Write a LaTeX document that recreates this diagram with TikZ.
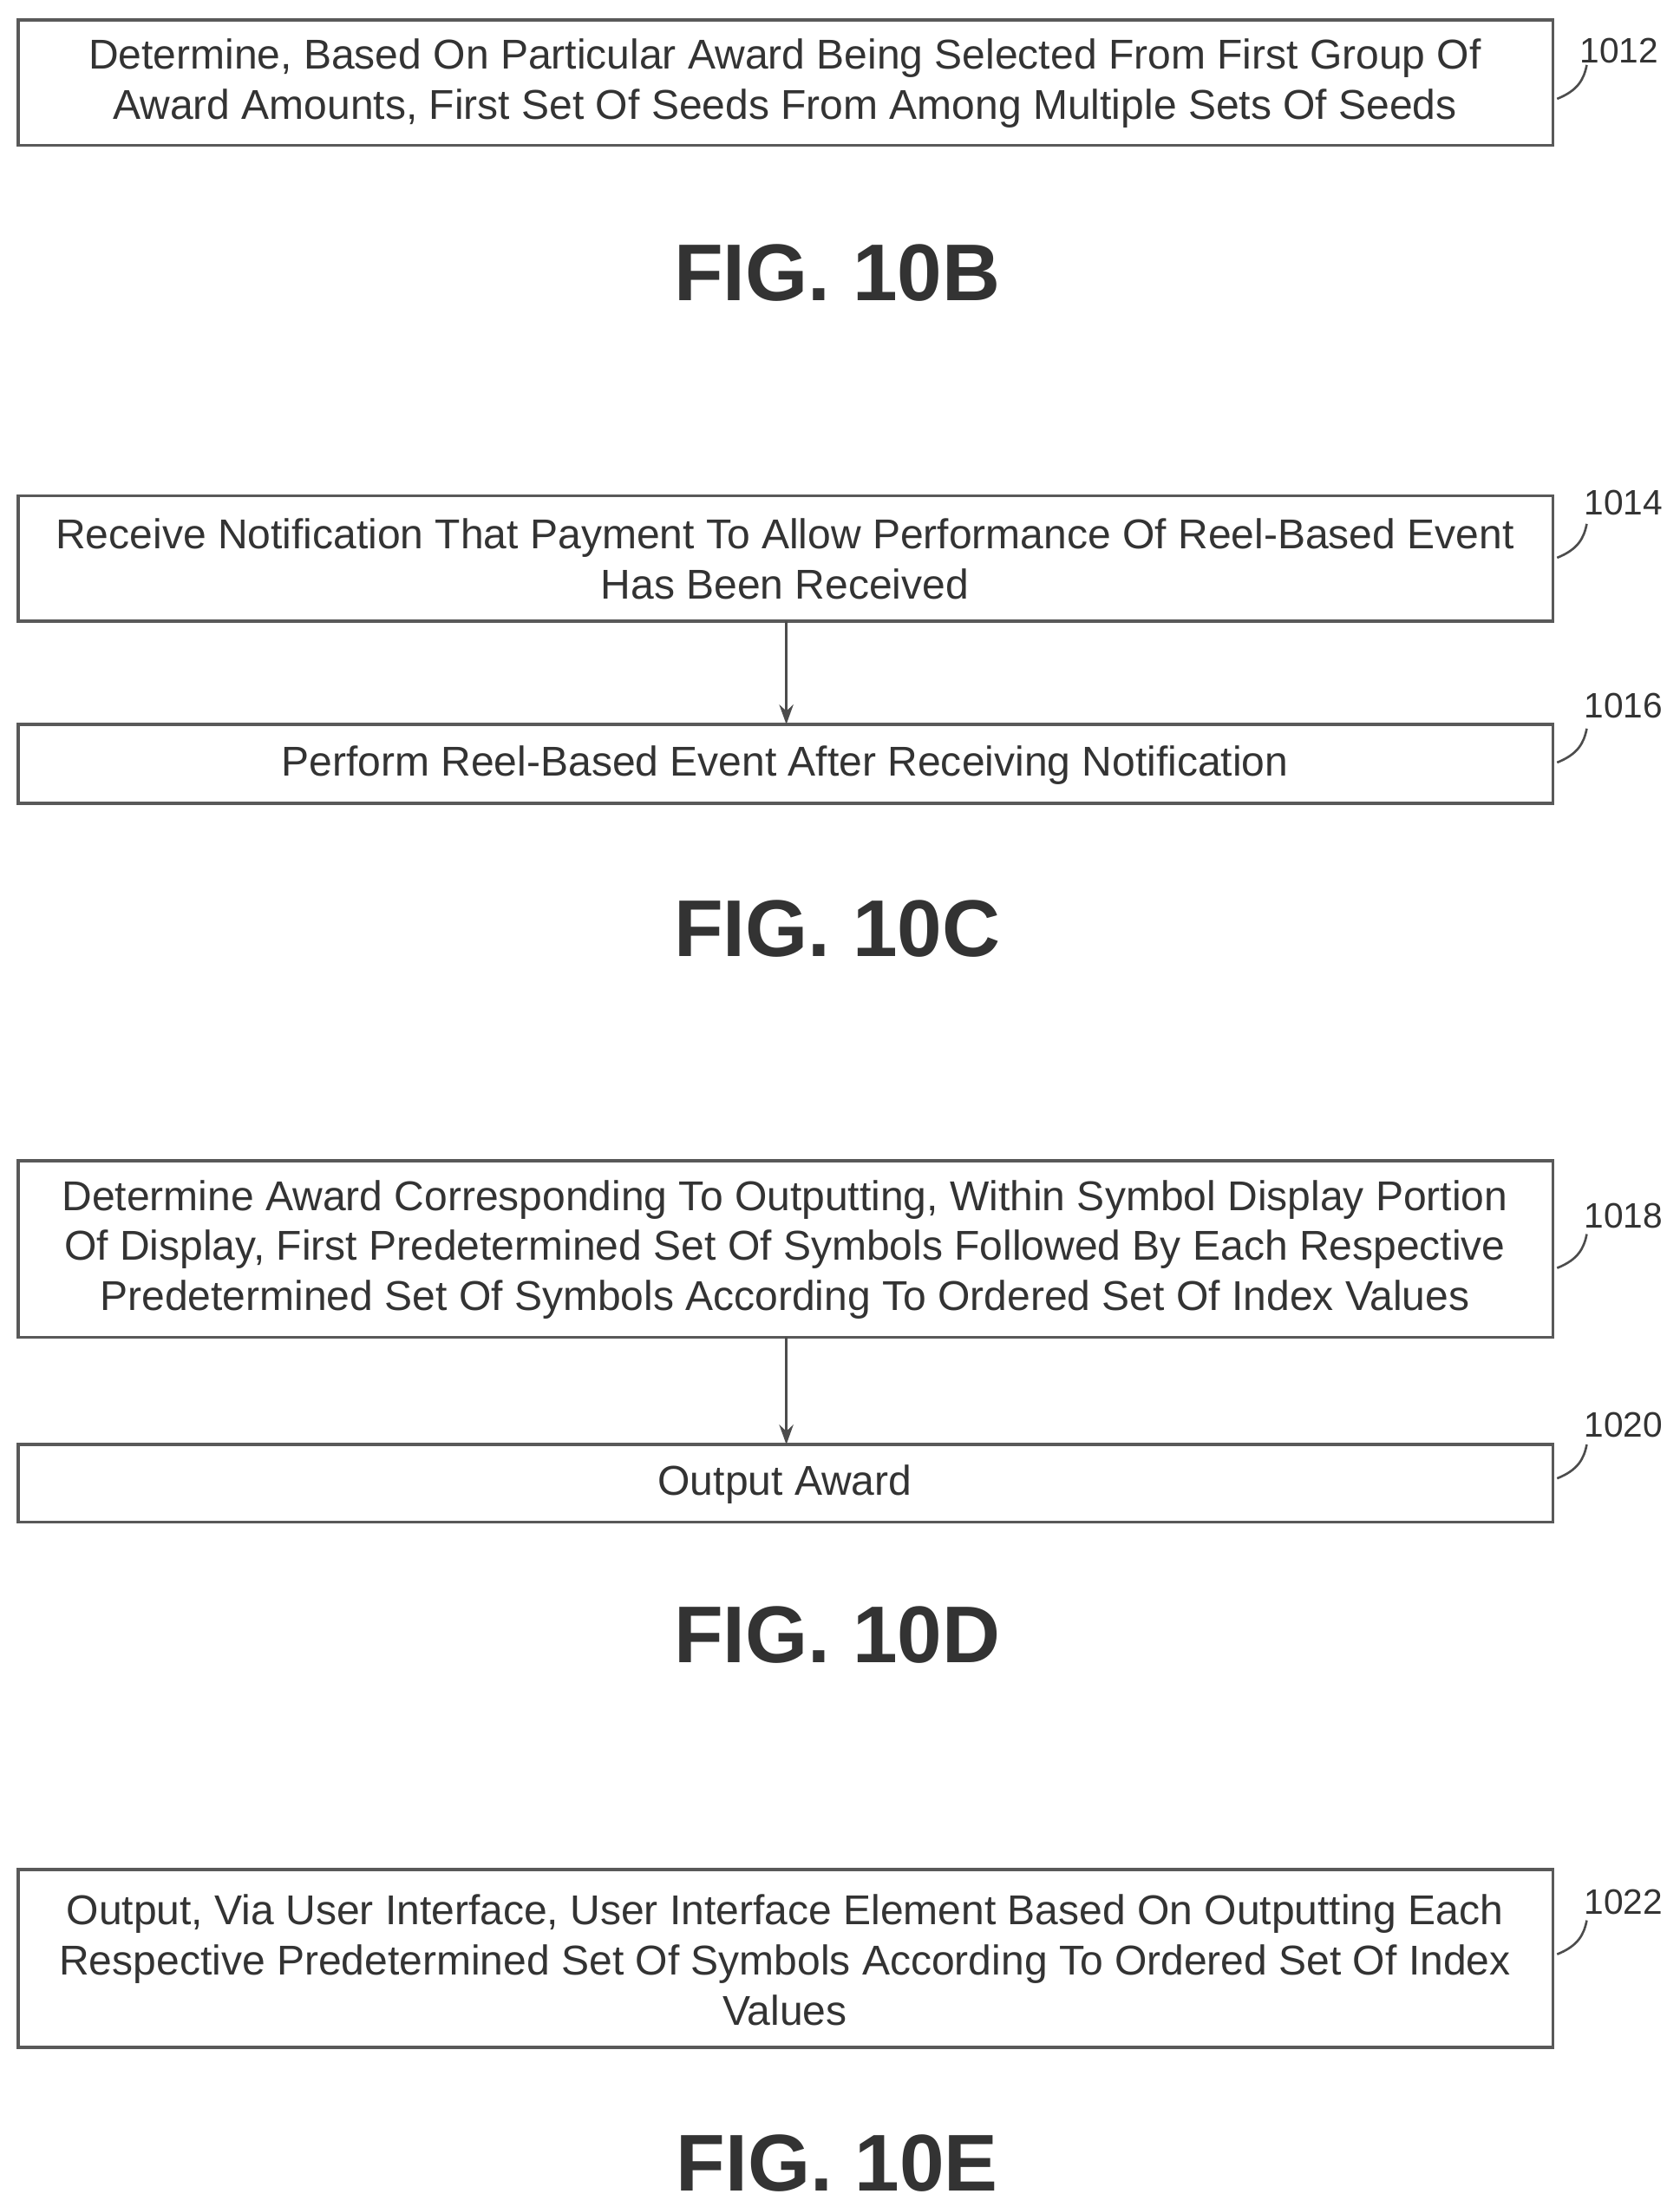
\documentclass[tikz,border=0pt]{standalone}
\usepackage{fontspec}
\setmainfont{Liberation Sans}
\usetikzlibrary{arrows.meta}
\begin{document}
\begin{tikzpicture}[x=1pt,y=-1pt,
  box/.style={draw=black!65,line width=2.2pt},
  txt/.style={font=\fontsize{29.5}{35.5}\selectfont,text=black!80,align=center},
  lbl/.style={font=\fontsize{25}{28}\selectfont,text=black!80},
  fig/.style={font=\fontsize{57}{64}\bfseries\selectfont,text=black!80},
  arr/.style={draw=black!70,line width=1.8pt,-{Stealth[length=14pt,width=10pt]}},
  tick/.style={draw=black!70,line width=1.6pt}]
\useasboundingbox (0,0) rectangle (1190,1563);
% 10B
\draw[box] (13,14) rectangle (1100,103);
\node[txt] (t1012) at (556,59) {Determine, Based On Particular Award Being Selected From First Group Of\\Award Amounts, First Set Of Seeds From Among Multiple Sets Of Seeds};
\node[lbl] (l1012) at (1147,36) {1012};
\draw[tick] (1103,70) .. controls (1118,64) and (1122,56) .. (1124,46);
\node[fig] (f10b) at (593,193) {FIG. 10B};
% 10C
\draw[box] (13,351) rectangle (1100,440);
\node[txt] (t1014) at (556,396) {Receive Notification That Payment To Allow Performance Of Reel-Based Event\\Has Been Received};
\node[lbl] (l1014) at (1150,356) {1014};
\draw[tick] (1103,395) .. controls (1118,389) and (1122,381) .. (1124,371);
\draw[box] (13,513) rectangle (1100,569);
\node[txt] (t1016) at (556,542) {Perform Reel-Based Event After Receiving Notification};
\node[lbl] (l1016) at (1150,500) {1016};
\draw[tick] (1103,540) .. controls (1118,534) and (1122,526) .. (1124,516);
\coordinate (a1) at (557,440); \coordinate (b1) at (557,513);
\draw[arr] (a1) -- (b1);
\node[fig] (f10c) at (593,658) {FIG. 10C};
% 10D
\draw[box] (13,822) rectangle (1100,947);
\node[txt] (t1018) at (556,885) {Determine Award Corresponding To Outputting, Within Symbol Display Portion\\Of Display, First Predetermined Set Of Symbols Followed By Each Respective\\Predetermined Set Of Symbols According To Ordered Set Of Index Values};
\node[lbl] (l1018) at (1150,861) {1018};
\draw[tick] (1103,898) .. controls (1118,892) and (1122,884) .. (1124,874);
\draw[box] (13,1023) rectangle (1100,1078);
\node[txt] (t1020) at (556,1051) {Output Award};
\node[lbl] (l1020) at (1150,1009) {1020};
\draw[tick] (1103,1047) .. controls (1118,1041) and (1122,1033) .. (1124,1023);
\coordinate (a2) at (557,947); \coordinate (b2) at (557,1023);
\draw[arr] (a2) -- (b2);
\node[fig] (f10d) at (593,1158) {FIG. 10D};
% 10E
\draw[box] (13,1324) rectangle (1100,1450);
\node[txt] (t1022) at (556,1388) {Output, Via User Interface, User Interface Element Based On Outputting Each\\Respective Predetermined Set Of Symbols According To Ordered Set Of Index\\Values};
\node[lbl] (l1022) at (1150,1347) {1022};
\draw[tick] (1103,1384) .. controls (1118,1378) and (1122,1370) .. (1124,1360);
\node[fig] (f10e) at (593,1532) {FIG. 10E};
\end{tikzpicture}
\end{document}
